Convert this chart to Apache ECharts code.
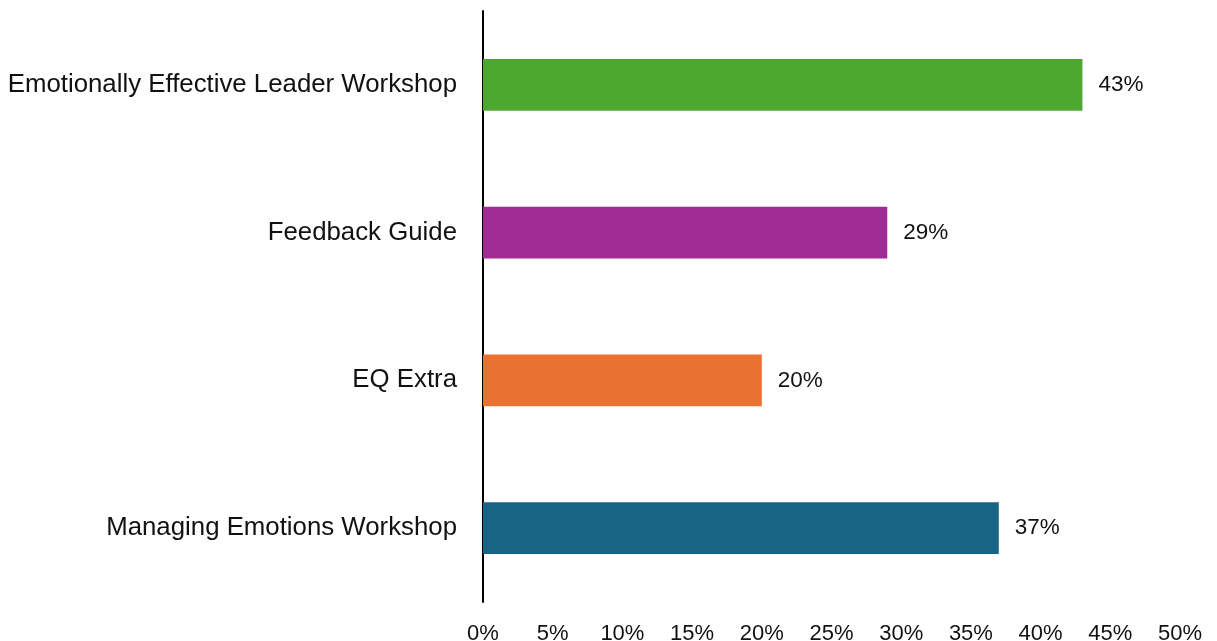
<!DOCTYPE html>
<html><head><meta charset="utf-8">
<script src="https://cdn.jsdelivr.net/npm/echarts@6/dist/echarts.min.js"></script>
<style>html,body{margin:0;padding:0;background:#fff}#c{width:1217px;height:641px}</style>
</head><body><div id="c"></div>
<script>
const categories = ["Managing Emotions Workshop", "EQ Extra", "Feedback Guide", "Emotionally Effective Leader Workshop"];
const values = [37, 20, 29, 43];
const colors = ["#186484", "#E97132", "#A02B93", "#4EA72E"];
const chart = echarts.init(document.getElementById('c'));
const ff = 'Liberation Sans, Arial, sans-serif';
chart.setOption({
  animation: false,
  grid: {left: 483, right: 37, top: 11, bottom: 39, containLabel: false, outerBoundsMode: 'none'},
  xAxis: {
    type: 'value', min: 0, max: 50, interval: 5,
    axisLine: {show: false}, axisTick: {show: false}, splitLine: {show: false},
    axisLabel: {formatter: '{value}%', color: '#111', fontSize: 22, fontFamily: ff, margin: 21}
  },
  yAxis: {
    type: 'category', data: categories,
    axisLine: {show: true, lineStyle: {color: '#000', width: 2}},
    axisTick: {show: false},
    axisLabel: {color: '#111', fontSize: 25.8, fontFamily: ff, margin: 26}
  },
  series: [{
    type: 'bar', barWidth: '35%',
    data: values.map((v, i) => ({value: v, itemStyle: {color: colors[i]}})),
    label: {show: true, position: 'right', distance: 16, formatter: '{c}%', color: '#111', fontSize: 22.5, fontFamily: ff}
  }]
});
</script></body></html>
